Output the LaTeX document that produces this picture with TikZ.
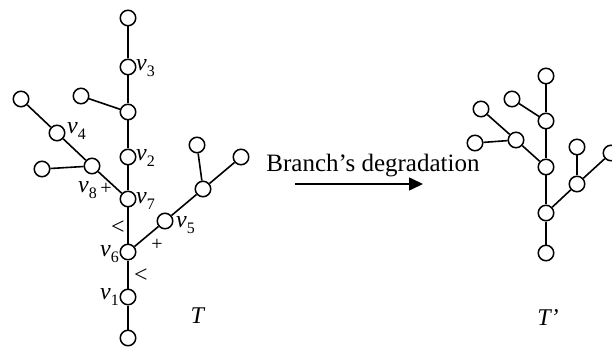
\documentclass[tikz,border=0pt]{standalone}
\usepackage{fontspec}
\setmainfont{Liberation Serif}
\usetikzlibrary{arrows.meta}
\newcommand{\vlab}[1]{\textit{v}\raisebox{-0.22em}{\fontsize{16}{16}\selectfont #1}}

\begin{document}
\begin{tikzpicture}[x=1pt,y=-1pt,
    vtx/.style={circle,draw,line width=1.5pt,fill=white,minimum size=15.5pt,inner sep=0pt},
    edge/.style={line width=1.6pt},
    lbl/.style={font=\fontsize{24}{24}\selectfont,inner sep=0pt},
    sgn/.style={font=\fontsize{20}{20}\selectfont,inner sep=0pt}]
  \useasboundingbox (0,0) rectangle (612,347);
  % tree T
  \foreach \n/\x/\y in {a0/128/18,v3/128/67,u1/128/112,l1/81/96,v2/128/157,v7/128/199,
      v8/92/166,l8/42/169,v4/57/133,l4/21/99,v6/128/252,v5/165/221,u5/203/189,
      l5a/197/145,l5b/241/157,v1/128/297,a9/128/338}
    \node[vtx] (\n) at (\x,\y) {};
  \foreach \p/\q in {a0/v3,v3/u1,u1/l1,u1/v2,v2/v7,v7/v6,v6/v1,v1/a9,v7/v8,v8/v4,
      v4/l4,v8/l8,v6/v5,v5/u5,u5/l5a,u5/l5b}
    \draw[edge] (\p) -- (\q);
  \node[lbl,anchor=west] (t3) at (136,68) {\vlab{3}};
  \node[lbl,anchor=west] (t2) at (136,158) {\vlab{2}};
  \node[lbl,anchor=west] (t7) at (136,201) {\vlab{7}};
  \node[lbl,anchor=west] (t4) at (67,131) {\vlab{4}};
  \node[lbl,anchor=east] (t8) at (97,190) {\vlab{8}};
  \node[lbl,anchor=west] (t5) at (176,225) {\vlab{5}};
  \node[lbl,anchor=east] (t6) at (119,254) {\vlab{6}};
  \node[lbl,anchor=east] (t1) at (119,297) {\vlab{1}};
  \node[sgn] (s8) at (106,189) {+};
  \node[sgn] (s6) at (157,245) {+};
  \node[sgn,font=\fontsize{24}{24}\selectfont] (c7) at (118,228) {<};
  \node[sgn,font=\fontsize{24}{24}\selectfont] (c1) at (141,276) {<};
  \node[lbl] (tT) at (198,316) {\textit{T}};
  % degradation arrow
  \node[lbl,anchor=base,font=\fontsize{25}{25}\selectfont] (deg) at (373,172) {Branch’s degradation};
  \coordinate (arrS) at (295,184);
  \coordinate (arrE) at (423,184);
  \draw[edge,-{Triangle[length=14pt,width=13pt]}] (arrS) -- (arrE);
  % tree T'
  \foreach \n/\x/\y in {r0/546/76,r1/546/121,rl1/512/99,r2/546/167,rb/516/140,
      rl2/481/109,rl3/475/143,r3/546/213,ru/577/184,rl4/577/147,rl5/611/153,r9/546/253}
    \node[vtx] (\n) at (\x,\y) {};
  \foreach \p/\q in {r0/r1,r1/rl1,r1/r2,r2/rb,rb/rl2,rb/rl3,r2/r3,r3/ru,ru/rl4,ru/rl5,r3/r9}
    \draw[edge] (\p) -- (\q);
  \node[lbl] (tT2) at (548,318) {\textit{T’}};
\end{tikzpicture}
\end{document}
